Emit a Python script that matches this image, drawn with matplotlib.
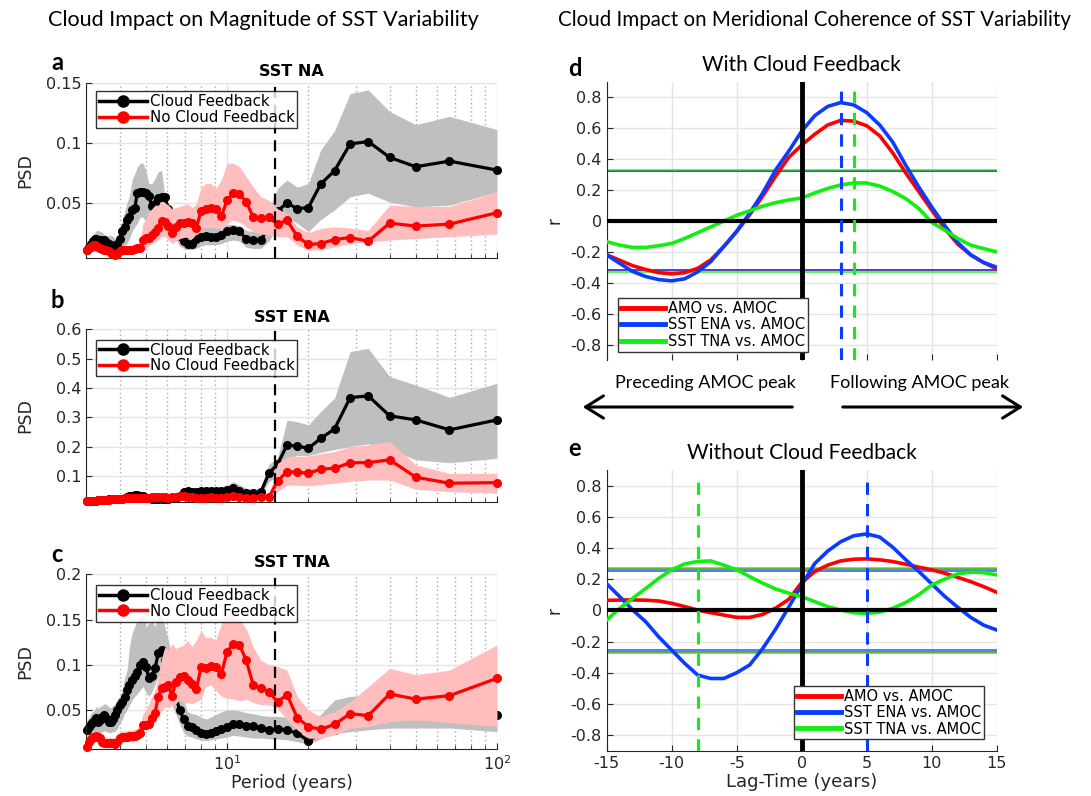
import numpy as np
import matplotlib
matplotlib.use('Agg')
import matplotlib.pyplot as plt
from matplotlib.lines import Line2D
from matplotlib.patches import FancyArrowPatch
from matplotlib.ticker import FixedLocator, NullFormatter

plt.rcParams['axes.unicode_minus'] = False
plt.rcParams['font.family'] = ['DejaVu Sans']

# ---------------- data: spectra (periods = 200-yr record / harmonic k) ----------------
harmonic = np.arange(66, 1, -1)
period = 200.0 / harmonic

na_cloud = [0.0106, 0.0128, 0.0156, 0.018, 0.0195, 0.0195, 0.019, 0.019, 0.0184, 0.019,
            0.0175, 0.0156, 0.0147, 0.0139, 0.0134, 0.016, 0.020, 0.0267, 0.0295, 0.0356,
            0.0378, 0.044, 0.0453, 0.0584, 0.0592, 0.0592, 0.0578, 0.0556, 0.0472, 0.0489,
            0.0536, 0.055, 0.0545, 0.045, 0.036, 0.028, 0.022, 0.018, 0.016, 0.0153,
            0.020, 0.0217, 0.0222, 0.0211, 0.0217, 0.023, 0.0267, 0.0272, 0.0267, 0.0195,
            0.019, 0.019, 0.030, 0.043, 0.050, 0.045, 0.046, 0.0656, 0.0767, 0.099,
            0.101, 0.0878, 0.080, 0.0847, 0.0772]
na_cloud_hi = [0.0147, 0.018, 0.021, 0.023, 0.025, 0.0267, 0.027, 0.026, 0.0255, 0.0235,
               0.0228, 0.0225, 0.023, 0.022, 0.020, 0.021, 0.023, 0.0356, 0.042, 0.050,
               0.056, 0.069, 0.074, 0.080, 0.083, 0.083, 0.077, 0.066, 0.066, 0.070,
               0.076, 0.077, 0.055, 0.0494, 0.0425, 0.0356, 0.031, 0.029, 0.0272, 0.027,
               0.028, 0.029, 0.030, 0.030, 0.030, 0.031, 0.032, 0.032, 0.031, 0.027,
               0.026, 0.025, 0.045, 0.062, 0.069, 0.063, 0.066, 0.094, 0.11, 0.141,
               0.144, 0.126, 0.115, 0.122, 0.111]
na_cloud_lo = [0.0064, 0.008, 0.0092, 0.0095, 0.0092, 0.009, 0.0085, 0.0085, 0.0082, 0.008,
               0.0078, 0.0075, 0.0072, 0.0072, 0.0072, 0.008, 0.0095, 0.012, 0.014, 0.016,
               0.0203, 0.026, 0.030, 0.033, 0.038, 0.038, 0.034, 0.033, 0.0305, 0.0356,
               0.0397, 0.040, 0.038, 0.0356, 0.028, 0.020, 0.014, 0.012, 0.011, 0.011,
               0.012, 0.014, 0.015, 0.015, 0.015, 0.016, 0.018, 0.019, 0.018, 0.013,
               0.012, 0.012, 0.018, 0.030, 0.038, 0.033, 0.026, 0.036, 0.044, 0.055,
               0.058, 0.0505, 0.0467, 0.048, 0.059]
na_nocloud = [0.0106, 0.012, 0.0135, 0.0145, 0.0148, 0.014, 0.0135, 0.0125, 0.0118, 0.011,
              0.0105, 0.0095, 0.0085, 0.0075, 0.0068, 0.0075, 0.0095, 0.011, 0.0105, 0.0105,
              0.0105, 0.011, 0.0112, 0.012, 0.0125, 0.019, 0.0205, 0.021, 0.0235, 0.0255,
              0.029, 0.035, 0.034, 0.031, 0.025, 0.030, 0.033, 0.0335, 0.034, 0.033,
              0.029, 0.043, 0.045, 0.046, 0.045, 0.039, 0.052, 0.0578, 0.057, 0.051,
              0.038, 0.037, 0.0378, 0.032, 0.0356, 0.022, 0.0153, 0.016, 0.0194, 0.021,
              0.018, 0.033, 0.0306, 0.0322, 0.0417]
na_nocloud_hi = [0.013, 0.0145, 0.016, 0.017, 0.0175, 0.017, 0.0165, 0.0155, 0.0148, 0.014,
                 0.0135, 0.0125, 0.0115, 0.0105, 0.0098, 0.0105, 0.0125, 0.014, 0.0135, 0.0138,
                 0.0145, 0.015, 0.0155, 0.016, 0.018, 0.033, 0.036, 0.0425, 0.045, 0.048,
                 0.048, 0.051, 0.05, 0.048, 0.045, 0.046, 0.047, 0.048, 0.049, 0.046,
                 0.049, 0.063, 0.066, 0.066, 0.062, 0.069, 0.083, 0.083, 0.080, 0.072,
                 0.063, 0.055, 0.052, 0.045, 0.041, 0.030, 0.025, 0.0287, 0.030, 0.029,
                 0.027, 0.048, 0.047, 0.047, 0.059]
na_nocloud_lo = [0.008, 0.0095, 0.011, 0.012, 0.0122, 0.0115, 0.011, 0.010, 0.0092, 0.0085,
                 0.008, 0.007, 0.006, 0.005, 0.0045, 0.005, 0.0068, 0.008, 0.0078, 0.0078,
                 0.0078, 0.008, 0.0082, 0.0088, 0.0092, 0.0106, 0.012, 0.0147, 0.016, 0.0175,
                 0.019, 0.0217, 0.022, 0.019, 0.016, 0.018, 0.02, 0.021, 0.0217, 0.02,
                 0.024, 0.028, 0.030, 0.030, 0.029, 0.028, 0.033, 0.0356, 0.034, 0.030,
                 0.026, 0.024, 0.023, 0.0217, 0.0217, 0.0147, 0.0106, 0.0106, 0.0133, 0.016,
                 0.0175, 0.0189, 0.0203, 0.0217, 0.024]

ena_cloud = [0.015, 0.015, 0.016, 0.016, 0.015, 0.016, 0.017, 0.017, 0.018, 0.018,
             0.019, 0.02, 0.021, 0.022, 0.022, 0.021, 0.02, 0.022, 0.024, 0.027,
             0.03, 0.033, 0.034, 0.035, 0.033, 0.03, 0.026, 0.023, 0.022, 0.022,
             0.021, 0.02, 0.02, 0.021, 0.023, 0.026, 0.03, 0.045, 0.048, 0.046,
             0.045, 0.047, 0.048, 0.047, 0.048, 0.05, 0.052, 0.06, 0.05, 0.042,
             0.04, 0.045, 0.109, 0.14, 0.205, 0.202, 0.194, 0.228, 0.26, 0.367,
             0.373, 0.305, 0.291, 0.257, 0.291]
ena_cloud_hi = [0.02, 0.02, 0.021, 0.021, 0.02, 0.021, 0.022, 0.022, 0.023, 0.023,
                0.024, 0.025, 0.026, 0.027, 0.027, 0.026, 0.025, 0.028, 0.031, 0.035,
                0.038, 0.041, 0.042, 0.044, 0.042, 0.038, 0.033, 0.03, 0.028, 0.028,
                0.027, 0.026, 0.026, 0.027, 0.03, 0.034, 0.04, 0.055, 0.058, 0.056,
                0.055, 0.057, 0.058, 0.058, 0.06, 0.063, 0.068, 0.08, 0.07, 0.058,
                0.054, 0.06, 0.14, 0.16, 0.29, 0.285, 0.274, 0.32, 0.365, 0.524,
                0.535, 0.439, 0.41, 0.368, 0.416]
ena_cloud_lo = [0.012, 0.012, 0.012, 0.012, 0.012, 0.012, 0.013, 0.013, 0.014, 0.014,
                0.015, 0.016, 0.017, 0.018, 0.018, 0.017, 0.016, 0.017, 0.019, 0.021,
                0.023, 0.026, 0.027, 0.028, 0.026, 0.023, 0.02, 0.018, 0.017, 0.017,
                0.016, 0.015, 0.015, 0.016, 0.017, 0.019, 0.022, 0.036, 0.039, 0.037,
                0.036, 0.038, 0.039, 0.038, 0.038, 0.04, 0.042, 0.046, 0.04, 0.033,
                0.03, 0.034, 0.08, 0.1, 0.16, 0.17, 0.17, 0.18, 0.19, 0.2,
                0.21, 0.19, 0.155, 0.145, 0.16]
ena_nocloud = [0.016, 0.016, 0.015, 0.015, 0.016, 0.016, 0.017, 0.017, 0.018, 0.018,
               0.019, 0.019, 0.02, 0.02, 0.021, 0.021, 0.022, 0.022, 0.023, 0.023,
               0.024, 0.024, 0.025, 0.025, 0.026, 0.025, 0.025, 0.026, 0.027, 0.027,
               0.028, 0.028, 0.027, 0.026, 0.027, 0.028, 0.03, 0.03, 0.028, 0.027,
               0.026, 0.025, 0.026, 0.027, 0.026, 0.025, 0.028, 0.03, 0.027, 0.026,
               0.026, 0.027, 0.028, 0.082, 0.115, 0.1125, 0.109, 0.123, 0.126, 0.145,
               0.145, 0.155, 0.0955, 0.075, 0.077]
ena_nocloud_hi = [0.02, 0.02, 0.019, 0.019, 0.02, 0.02, 0.021, 0.021, 0.022, 0.022,
                  0.023, 0.023, 0.024, 0.024, 0.025, 0.025, 0.026, 0.026, 0.027, 0.027,
                  0.028, 0.028, 0.029, 0.029, 0.030, 0.029, 0.029, 0.030, 0.031, 0.031,
                  0.032, 0.032, 0.031, 0.030, 0.031, 0.032, 0.034, 0.034, 0.032, 0.031,
                  0.030, 0.029, 0.030, 0.031, 0.030, 0.029, 0.032, 0.034, 0.031, 0.030,
                  0.030, 0.031, 0.033, 0.143, 0.166, 0.167, 0.168, 0.176, 0.183, 0.2,
                  0.206, 0.217, 0.1375, 0.109, 0.109]
ena_nocloud_lo = [0.012, 0.012, 0.012, 0.012, 0.012, 0.012, 0.013, 0.013, 0.014, 0.014,
                  0.015, 0.015, 0.016, 0.016, 0.017, 0.017, 0.018, 0.018, 0.019, 0.019,
                  0.02, 0.02, 0.021, 0.021, 0.022, 0.021, 0.021, 0.022, 0.023, 0.023,
                  0.024, 0.024, 0.023, 0.022, 0.023, 0.024, 0.026, 0.026, 0.024, 0.023,
                  0.022, 0.021, 0.022, 0.023, 0.022, 0.021, 0.024, 0.026, 0.023, 0.022,
                  0.022, 0.023, 0.024, 0.0466, 0.069, 0.068, 0.066, 0.07, 0.075, 0.081,
                  0.086, 0.086, 0.0545, 0.0466, 0.041]

tna_cloud = [0.0279, 0.0316, 0.035, 0.037, 0.039, 0.041, 0.037, 0.039, 0.0426, 0.0445,
             0.041, 0.037, 0.037, 0.040, 0.0445, 0.050, 0.0555, 0.059, 0.0647, 0.072,
             0.0776, 0.0832, 0.087, 0.092, 0.100, 0.1034, 0.098, 0.085, 0.0876, 0.096,
             0.1126, 0.1163, 0.1053, 0.095, 0.08, 0.065, 0.05, 0.04, 0.0325, 0.031,
             0.028, 0.024, 0.0235, 0.025, 0.027, 0.029, 0.0315, 0.035, 0.034, 0.032,
             0.032, 0.030, 0.028, 0.029, 0.028, 0.024, 0.016, 0.024, 0.028, 0.036,
             0.04, 0.045, 0.045, 0.046, 0.0445]
tna_cloud_hi = [0.039, 0.042, 0.046, 0.048, 0.05, 0.054, 0.052, 0.054, 0.055, 0.057,
                0.056, 0.054, 0.052, 0.055, 0.057, 0.062, 0.065, 0.072, 0.085, 0.094,
                0.12, 0.135, 0.142, 0.15, 0.152, 0.157, 0.142, 0.146, 0.15, 0.142,
                0.157, 0.155, 0.142, 0.127, 0.105, 0.09, 0.075, 0.06, 0.048, 0.046,
                0.045, 0.042, 0.04, 0.042, 0.045, 0.048, 0.05, 0.05, 0.049, 0.047,
                0.046, 0.044, 0.043, 0.043, 0.042, 0.038, 0.035, 0.045, 0.061, 0.065,
                0.0666, 0.06, 0.054, 0.05, 0.052]
tna_cloud_lo = [0.017, 0.019, 0.021, 0.022, 0.024, 0.025, 0.023, 0.024, 0.026, 0.027,
                0.026, 0.025, 0.025, 0.026, 0.026, 0.03, 0.035, 0.039, 0.046, 0.05,
                0.0555, 0.061, 0.065, 0.068, 0.072, 0.076, 0.07, 0.065, 0.07, 0.079,
                0.087, 0.085, 0.076, 0.065, 0.055, 0.045, 0.035, 0.025, 0.021, 0.02,
                0.018, 0.017, 0.016, 0.017, 0.018, 0.019, 0.02, 0.022, 0.021, 0.02,
                0.019, 0.019, 0.018, 0.018, 0.017, 0.015, 0.012, 0.018, 0.024, 0.026,
                0.028, 0.03, 0.03, 0.03, 0.026]
tna_nocloud = [0.0095, 0.015, 0.0176, 0.0205, 0.0205, 0.021, 0.0205, 0.0187, 0.015, 0.013,
               0.013, 0.013, 0.014, 0.013, 0.0124, 0.015, 0.0187, 0.0205, 0.0205, 0.0205,
               0.021, 0.021, 0.021, 0.022, 0.024, 0.0334, 0.0334, 0.035, 0.0408, 0.0463,
               0.0647, 0.074, 0.0758, 0.0776, 0.0655, 0.081, 0.086, 0.0876, 0.0832, 0.0787,
               0.0728, 0.097, 0.096, 0.0986, 0.098, 0.0898, 0.1145, 0.123, 0.122, 0.105,
               0.0776, 0.074, 0.070, 0.059, 0.067, 0.0415, 0.0316, 0.0286, 0.034, 0.046,
               0.0437, 0.0677, 0.062, 0.0658, 0.085]
tna_nocloud_hi = [0.015, 0.02, 0.023, 0.026, 0.026, 0.027, 0.026, 0.024, 0.021, 0.019,
                  0.019, 0.019, 0.02, 0.019, 0.018, 0.021, 0.025, 0.027, 0.027, 0.027,
                  0.028, 0.028, 0.028, 0.03, 0.034, 0.046, 0.05, 0.057, 0.065, 0.072,
                  0.087, 0.107, 0.12, 0.116, 0.124, 0.118, 0.12, 0.122, 0.127, 0.12,
                  0.127, 0.138, 0.13, 0.13, 0.128, 0.146, 0.16, 0.155, 0.15, 0.14,
                  0.12, 0.105, 0.1, 0.098, 0.094, 0.065, 0.05, 0.0426, 0.048, 0.059,
                  0.0758, 0.096, 0.089, 0.094, 0.122]
tna_nocloud_lo = [0.005, 0.009, 0.012, 0.014, 0.015, 0.015, 0.014, 0.013, 0.01, 0.008,
                  0.008, 0.008, 0.009, 0.008, 0.008, 0.009, 0.012, 0.014, 0.015, 0.015,
                  0.015, 0.015, 0.016, 0.016, 0.018, 0.028, 0.03, 0.032, 0.037, 0.041,
                  0.043, 0.048, 0.054, 0.052, 0.0555, 0.057, 0.061, 0.058, 0.058, 0.057,
                  0.059, 0.062, 0.0758, 0.0776, 0.072, 0.065, 0.063, 0.062, 0.06, 0.062,
                  0.058, 0.056, 0.0555, 0.052, 0.039, 0.028, 0.0187, 0.0187, 0.0224, 0.0297,
                  0.0316, 0.037, 0.039, 0.036, 0.032]

# ---------------- data: lagged correlations ----------------
lag = np.arange(-15, 16)
d_amo = [-0.22, -0.255, -0.29, -0.315, -0.335, -0.343, -0.335, -0.307, -0.253, -0.167,
         -0.07, 0.04, 0.16, 0.29, 0.41,
         0.49,
         0.56, 0.62, 0.65, 0.645, 0.615, 0.55, 0.44, 0.31, 0.19, 0.07, -0.05, -0.15,
         -0.22, -0.27, -0.31]
d_ena = [-0.22, -0.275, -0.328, -0.36, -0.38, -0.388, -0.375, -0.33, -0.264, -0.167,
         -0.067, 0.05, 0.18, 0.33, 0.45,
         0.58,
         0.68, 0.74, 0.765, 0.75, 0.70, 0.62, 0.51, 0.36, 0.22, 0.09, -0.03, -0.14,
         -0.22, -0.27, -0.30]
d_tna = [-0.135, -0.157, -0.172, -0.172, -0.161, -0.146, -0.114, -0.077, -0.039, -0.002,
         0.036, 0.065, 0.095, 0.118, 0.135,
         0.148,
         0.18, 0.21, 0.232, 0.245, 0.245, 0.225, 0.19, 0.144, 0.08, -0.01, -0.06, -0.114,
         -0.157, -0.18, -0.20]
e_amo = [0.064, 0.066, 0.067, 0.065, 0.06, 0.045, 0.024, 0.002, -0.015, -0.03,
         -0.045, -0.045, -0.026, 0.015, 0.07,
         0.178,
         0.249, 0.29, 0.317, 0.328, 0.33, 0.324, 0.313, 0.296, 0.277, 0.26, 0.238, 0.212,
         0.184, 0.152, 0.116]
e_ena = [0.17, 0.088, 0.002, -0.073, -0.17, -0.255, -0.34, -0.415, -0.437, -0.437,
         -0.40, -0.35, -0.245, -0.12, 0.02,
         0.163,
         0.30, 0.38, 0.44, 0.478, 0.49, 0.47, 0.405, 0.325, 0.25, 0.17, 0.09, 0.02,
         -0.045, -0.095, -0.126]
e_tna = [-0.062, 0.013, 0.077, 0.14, 0.205, 0.26, 0.298, 0.313, 0.317, 0.29,
         0.26, 0.216, 0.174, 0.137, 0.11,
         0.088,
         0.056, 0.024, 0.002, -0.015, -0.02, -0.011, 0.013, 0.05, 0.1, 0.163, 0.2, 0.234,
         0.245, 0.242, 0.227]
# 95% significance levels (AMO, ENA, TNA)
sig_d = [0.32, 0.32, 0.33]
sig_e = [0.268, 0.255, 0.274]
# lags of peak correlation (ENA, TNA)
peak_d = [3, 4]
peak_e = [5, -8]

series_names = ['AMO vs. AMOC', 'SST ENA vs. AMOC', 'SST TNA vs. AMOC']
psd_names = ['Cloud Feedback', 'No Cloud Feedback']

RED = '#ff0000'
BLUE = '#0a3cff'
GREEN = '#11ee11'
TXT = '#262626'

W, H = 1091, 796
fig = plt.figure(figsize=(W / 100, H / 100), dpi=100)


def rect(l, t, r, b):
    return [l / W, 1 - b / H, (r - l) / W, (b - t) / H]


def psd_panel(ax, title, c, c_lo, c_hi, n, n_lo, n_hi, ylim, yticks, ylabels,
              show_x, leg_top):
    ax.set_axisbelow(True)
    ax.fill_between(period, c_lo, c_hi, color='#bfbfbf', lw=0, zorder=1)
    ax.plot(period, c, '-o', color='k', lw=2.3, ms=5.5, zorder=2, clip_on=False)
    ax.fill_between(period, n_lo, n_hi, color='#ffbdbd', lw=0, zorder=3)
    ax.plot(period, n, '-o', color=RED, lw=2.3, ms=5.5, zorder=4, clip_on=False)
    ax.axvline(15, color='k', ls=(0, (5, 3)), lw=1.6, zorder=5)
    ax.set_xscale('log')
    ax.set_xlim(3, 100)
    ax.set_ylim(*ylim)
    ax.xaxis.set_major_locator(FixedLocator([10, 100]))
    ax.xaxis.set_minor_locator(FixedLocator([3, 4, 5, 6, 7, 8, 9, 20, 30, 40, 50, 60, 70, 80, 90]))
    ax.xaxis.set_minor_formatter(NullFormatter())
    if show_x:
        ax.set_xticklabels([r'$\mathregular{10^{1}}$', r'$\mathregular{10^{2}}$'])
        ax.set_xlabel('Period (years)', fontsize=12.5, color=TXT, labelpad=1)
    else:
        ax.set_xticklabels([])
    ax.set_yticks(yticks)
    ax.set_yticklabels(ylabels)
    ax.grid(True, which='major', color='#e4e4e4', lw=1.0)
    ax.grid(True, which='minor', axis='x', color='#aaaaaa', lw=1.0, ls=(0, (1, 2)))
    for s in ['top', 'right']:
        ax.spines[s].set_visible(False)
    for s in ['left', 'bottom']:
        ax.spines[s].set_color(TXT)
    ax.tick_params(which='both', direction='in', colors=TXT, labelsize=11.5)
    ax.tick_params(which='major', length=4)
    ax.tick_params(which='minor', length=3)
    ax.set_ylabel('PSD', fontsize=12.5, color=TXT)
    ax.yaxis.set_label_coords(-0.125, 0.5)
    ax.set_title(title, fontsize=11.5, fontweight='bold', pad=5)
    handles = [Line2D([], [], color='k', lw=2.5, marker='o', ms=8),
               Line2D([], [], color=RED, lw=2.5, marker='o', ms=8)]
    leg = ax.legend(handles, psd_names, loc='upper left', bbox_to_anchor=(0.025, leg_top),
                    fontsize=10.8, frameon=True, fancybox=False, edgecolor='k',
                    borderpad=0.2, labelspacing=0.05, handlelength=3.2, handletextpad=0.15,
                    borderaxespad=0)
    leg.get_frame().set_linewidth(1.0)
    leg.set_zorder(10)


axA = fig.add_axes(rect(86, 82.7, 497, 258))
axB = fig.add_axes(rect(86, 329.3, 497, 501.7))
axC = fig.add_axes(rect(86, 574.3, 497, 749.3))

psd_panel(axA, 'SST NA', na_cloud, na_cloud_lo, na_cloud_hi, na_nocloud, na_nocloud_lo,
          na_nocloud_hi, (0.004, 0.15), [0.05, 0.1, 0.15], ['0.05', '0.1', '0.15'], False, 0.95)
psd_panel(axB, 'SST ENA', ena_cloud, ena_cloud_lo, ena_cloud_hi, ena_nocloud, ena_nocloud_lo,
          ena_nocloud_hi, (0.012, 0.6), [0.1, 0.2, 0.3, 0.4, 0.5, 0.6],
          ['0.1', '0.2', '0.3', '0.4', '0.5', '0.6'], False, 0.94)
psd_panel(axC, 'SST TNA', tna_cloud, tna_cloud_lo, tna_cloud_hi, tna_nocloud, tna_nocloud_lo,
          tna_nocloud_hi, (0.0065, 0.2), [0.05, 0.1, 0.15, 0.2], ['0.05', '0.1', '0.15', '0.2'],
          True, 0.94)


def corr_panel(ax, title, amo, ena, tna, sig, peaks, leg_loc, leg_anchor, show_x):
    ax.set_axisbelow(True)
    ax.set_xlim(-15, 15)
    ax.set_ylim(-0.9, 0.9)
    ax.set_xticks([-15, -10, -5, 0, 5, 10, 15])
    yt = [-0.8, -0.6, -0.4, -0.2, 0, 0.2, 0.4, 0.6, 0.8]
    ax.set_yticks(yt)
    ax.set_yticklabels(['-0.8', '-0.6', '-0.4', '-0.2', '0', '0.2', '0.4', '0.6', '0.8'])
    ax.grid(True, color='#e4e4e4', lw=1.0)
    cols = [RED, BLUE, GREEN]
    for s, col in zip(sig, cols):
        ax.axhline(s, color=col, lw=1.3, alpha=0.75, zorder=2)
        ax.axhline(-s, color=col, lw=1.3, alpha=0.75, zorder=2)
    for arr, col in zip([amo, ena, tna], cols):
        ax.plot(lag, arr, color=col, lw=2.6, zorder=3)
    ax.axhline(0, color='k', lw=3.0, zorder=4)
    ax.axvline(0, color='k', lw=3.5, zorder=4)
    for p, col in zip(peaks, [BLUE, GREEN]):
        ax.plot([p, p], [-0.9, 0.86], color=col, lw=2.2, ls=(0, (4, 3)), zorder=5)
    for s in ['top', 'right']:
        ax.spines[s].set_visible(False)
    ax.spines['left'].set_color(TXT)
    ax.spines['bottom'].set_color(TXT)
    if not show_x:
        ax.spines['bottom'].set_visible(False)
        ax.set_xticklabels([])
    else:
        ax.set_xlabel('Lag-Time (years)', fontsize=13, color=TXT, labelpad=2)
    ax.tick_params(direction='in', colors=TXT, labelsize=11.5, length=4)
    ax.set_ylabel('r', fontsize=12, color=TXT)
    ax.yaxis.set_label_coords(-0.11, 0.5)
    ax.set_title(title, fontsize=15, family='Lato', pad=8)
    handles = [Line2D([], [], color=c, lw=3.5) for c in cols]
    leg = ax.legend(handles, series_names, loc=leg_loc, bbox_to_anchor=leg_anchor,
                    fontsize=10.5, frameon=True, fancybox=False, edgecolor='#333333',
                    borderpad=0.2, labelspacing=0.1, handlelength=3.0, handletextpad=0.2,
                    borderaxespad=0, framealpha=1)
    leg.get_frame().set_linewidth(1.0)
    leg.set_zorder(10)


axD = fig.add_axes(rect(606.7, 81.7, 996.7, 360))
axE = fig.add_axes(rect(606.7, 470, 996.7, 750.7))
corr_panel(axD, 'With Cloud Feedback', d_amo, d_ena, d_tna, sig_d, peak_d,
           'lower left', (0.03, 0.03), False)
corr_panel(axE, 'Without Cloud Feedback', e_amo, e_ena, e_tna, sig_e, peak_e,
           'lower right', (0.967, 0.04), True)

# headers and panel letters
fig.text(263 / W, 1 - 20 / H, 'Cloud Impact on Magnitude of SST Variability',
         family='Lato', fontsize=15.5, ha='center', va='center')
fig.text(815 / W, 1 - 20 / H, 'Cloud Impact on Meridional Coherence of SST Variability',
         family='Lato', fontsize=14.8, ha='center', va='center')
for lab, x, y in [('a', 57, 62), ('b', 57, 300), ('c', 57, 555), ('d', 575, 68), ('e', 575, 448)]:
    fig.text(x / W, 1 - y / H, lab, family='Lato', fontweight='bold', fontsize=17,
             ha='center', va='center')

fig.text(705 / W, 1 - 383 / H, 'Preceding AMOC peak', family='Lato', fontsize=13,
         ha='center', va='center')
fig.text(920 / W, 1 - 383 / H, 'Following AMOC peak', family='Lato', fontsize=13,
         ha='center', va='center')
for x0, x1 in [(795, 580), (840, 1026)]:
    arr = FancyArrowPatch((x0 / W, 1 - 407 / H), (x1 / W, 1 - 407 / H),
                          transform=fig.transFigure, arrowstyle='->,head_length=8,head_width=5',
                          lw=2.2, color='k', mutation_scale=1.6)
    fig.patches.append(arr)

fig.savefig('out.png', dpi=100)
